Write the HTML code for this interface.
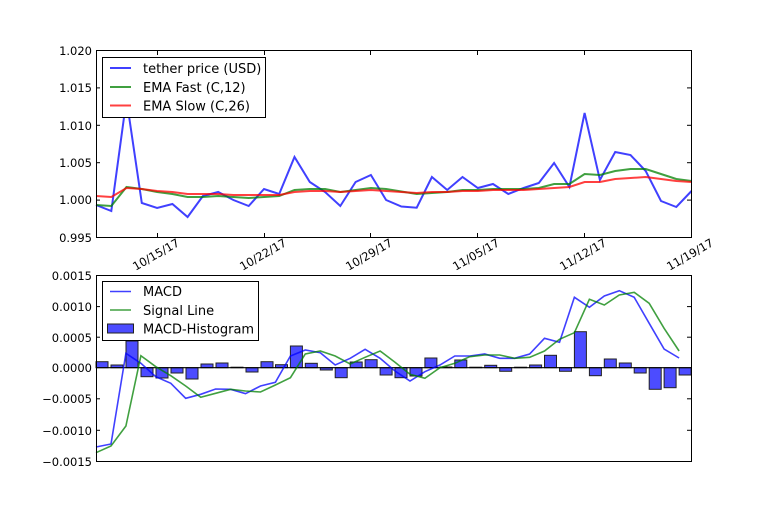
<!DOCTYPE html>
<html><head><meta charset="utf-8"><style>html,body{margin:0;padding:0;background:#fff}svg{display:block}</style></head>
<body>
<svg width="768" height="512" xmlns="http://www.w3.org/2000/svg" font-family="DejaVu Sans, Liberation Sans, sans-serif">
<rect width="768" height="512" fill="#fff"/>
<g id="top">
<polyline fill="none" stroke="#0000ff" stroke-opacity="0.75" stroke-width="2" points="96,205 111.3,211 126.5,99 141.8,203 157.1,208 172.4,204 187.6,217 202.9,196 218.2,192 233.4,200 248.7,206 264,189 279.2,194 294.5,157 309.8,182 325.1,192 340.3,206 355.6,182 370.9,175 386.1,200 401.4,206.5 416.7,207.7 431.9,177 447.2,190 462.5,177 477.8,188 493,184 508.3,194 523.6,188 538.8,183 554.1,163 569.4,187 584.6,113 599.9,180 615.2,152 630.5,155 645.7,171 661,201 676.3,207 691.5,191"/>
<polyline fill="none" stroke="#008000" stroke-opacity="0.75" stroke-width="2" points="96,205 111.3,206 126.5,187 141.8,189 157.1,192 172.4,194 187.6,197 202.9,197 218.2,196 233.4,197 248.7,198 264,197 279.2,196 294.5,190 309.8,189 325.1,189 340.3,192 355.6,190 370.9,188 386.1,189 401.4,191.5 416.7,194 431.9,193 447.2,192 462.5,190 477.8,190 493,189 508.3,189 523.6,189 538.8,188 554.1,184 569.4,184 584.6,174 599.9,175 615.2,171 630.5,169 645.7,169 661,174 676.3,179 691.5,181"/>
<polyline fill="none" stroke="#ff0000" stroke-opacity="0.75" stroke-width="2" points="96,196 111.3,197 126.5,188 141.8,189 157.1,191 172.4,192 187.6,194 202.9,194 218.2,194 233.4,195 248.7,195 264,195 279.2,195 294.5,192 309.8,191 325.1,191 340.3,192 355.6,191 370.9,190 386.1,191 401.4,192 416.7,193 431.9,192 447.2,192 462.5,191 477.8,191 493,190 508.3,190 523.6,190 538.8,189 554.1,188 569.4,187 584.6,182 599.9,182 615.2,179 630.5,178 645.7,177 661,179 676.3,181 691.5,182"/>
<rect x="96.5" y="50.5" width="595" height="187" fill="none" stroke="#000" stroke-width="1"/>
<g stroke="#000" stroke-width="1">
<line x1="96" y1="50.5" x2="100" y2="50.5"/><line x1="96" y1="87.9" x2="100" y2="87.9"/><line x1="96" y1="125.3" x2="100" y2="125.3"/><line x1="96" y1="162.7" x2="100" y2="162.7"/><line x1="96" y1="200.1" x2="100" y2="200.1"/>
<line x1="691" y1="87.9" x2="687" y2="87.9"/><line x1="691" y1="125.3" x2="687" y2="125.3"/><line x1="691" y1="162.7" x2="687" y2="162.7"/><line x1="691" y1="200.1" x2="687" y2="200.1"/>
<line x1="157.5" y1="237" x2="157.5" y2="233"/><line x1="264.5" y1="237" x2="264.5" y2="233"/><line x1="370.5" y1="237" x2="370.5" y2="233"/><line x1="477.5" y1="237" x2="477.5" y2="233"/><line x1="584.5" y1="237" x2="584.5" y2="233"/>
<line x1="157.5" y1="51" x2="157.5" y2="55"/><line x1="264.5" y1="51" x2="264.5" y2="55"/><line x1="370.5" y1="51" x2="370.5" y2="55"/><line x1="477.5" y1="51" x2="477.5" y2="55"/><line x1="584.5" y1="51" x2="584.5" y2="55"/>
</g>
<g font-size="11.5" fill="#000" text-anchor="end">
<text x="92" y="55">1.020</text><text x="92" y="92">1.015</text><text x="92" y="130">1.010</text><text x="92" y="167">1.005</text><text x="92" y="204">1.000</text><text x="92" y="242">0.995</text>
</g>
<g font-size="11.5" fill="#000" text-anchor="middle">
<text transform="translate(158,258) rotate(-30)">10/15/17</text>
<text transform="translate(265,258) rotate(-30)">10/22/17</text>
<text transform="translate(371,258) rotate(-30)">10/29/17</text>
<text transform="translate(478,258) rotate(-30)">11/05/17</text>
<text transform="translate(585,258) rotate(-30)">11/12/17</text>
<text transform="translate(692,258) rotate(-30)">11/19/17</text>
</g>
<rect x="102.5" y="57.5" width="163" height="60" fill="#fff" stroke="#000" stroke-width="1"/>
<line x1="110" y1="68" x2="131" y2="68" stroke="#0000ff" stroke-opacity="0.75" stroke-width="2"/>
<line x1="110" y1="87" x2="131" y2="87" stroke="#008000" stroke-opacity="0.75" stroke-width="2"/>
<line x1="110" y1="105.5" x2="131" y2="105.5" stroke="#ff0000" stroke-opacity="0.75" stroke-width="2"/>
<g font-size="13" fill="#000"><text x="143" y="73">tether price (USD)</text><text x="143" y="92">EMA Fast (C,12)</text><text x="143" y="110.5">EMA Slow (C,26)</text></g>
</g>
<g id="bottom">
<g fill="#0000ff" fill-opacity="0.7" stroke="#222" stroke-width="1">
<rect x="96" y="361.7" width="12" height="6"/><rect x="111" y="365" width="12" height="2.7"/><rect x="126" y="341" width="12" height="26.7"/><rect x="141" y="367.7" width="12" height="9"/><rect x="156" y="367.7" width="12" height="10.3"/><rect x="171" y="367.7" width="12" height="5.3"/><rect x="186" y="367.7" width="12" height="11.3"/><rect x="201" y="364" width="12" height="3.7"/><rect x="216" y="363" width="12" height="4.7"/><rect x="231" y="367.2" width="12" height="0.5"/><rect x="246" y="367.7" width="12" height="4.3"/><rect x="261" y="361.7" width="12" height="6"/><rect x="275.5" y="364.7" width="12" height="3"/><rect x="290.4" y="346" width="12" height="21.7"/><rect x="305.3" y="363.3" width="12" height="4.4"/><rect x="320.3" y="367.7" width="12" height="2.3"/><rect x="335.2" y="367.7" width="12" height="10"/><rect x="350.2" y="362" width="12" height="5.7"/><rect x="365.1" y="359.7" width="12" height="8"/><rect x="380.1" y="367.7" width="12" height="7.3"/><rect x="395" y="367.7" width="12" height="10"/><rect x="410" y="367.7" width="12" height="8.3"/><rect x="424.9" y="358" width="12" height="9.7"/><rect x="439.9" y="367" width="12" height="0.7"/><rect x="454.8" y="360" width="12" height="7.7"/><rect x="469.8" y="367.2" width="12" height="0.5"/><rect x="484.7" y="365.3" width="12" height="2.4"/><rect x="499.7" y="367.7" width="12" height="3.6"/><rect x="514.6" y="367.2" width="12" height="0.5"/><rect x="529.6" y="365" width="12" height="2.7"/><rect x="544.5" y="355.3" width="12" height="12.4"/><rect x="559.5" y="367.7" width="12" height="3.6"/><rect x="574.4" y="331.7" width="12" height="36"/><rect x="589.4" y="367.7" width="12" height="8"/><rect x="604.3" y="359" width="12" height="8.7"/><rect x="619.3" y="363" width="12" height="4.7"/><rect x="634.2" y="367.7" width="12" height="5.3"/><rect x="649.2" y="367.7" width="12" height="21.6"/><rect x="664.1" y="367.7" width="12" height="20"/><rect x="679.1" y="367.7" width="12" height="7.3"/>
</g>
<line x1="96" y1="367.7" x2="691" y2="367.7" stroke="#000" stroke-width="1.2"/>
<polyline fill="none" stroke="#0000ff" stroke-opacity="0.75" stroke-width="1.6" points="96,447 111,444 125.9,353.3 140.9,363.3 155.8,376.7 170.8,383.3 185.7,398.3 200.7,394.3 215.6,389 230.6,389.3 245.5,393.7 260.5,386 275.4,382.3 290.4,356 305.3,350 320.3,352.7 335.2,365 350.2,358.3 365.1,349.3 380.1,358.3 395,371 410,381 424.9,371.7 439.9,365 454.8,356 469.8,356 484.7,354 499.7,358.3 514.6,358.3 529.6,354 544.5,338.3 559.5,342.3 574.4,297.3 589.4,307.3 604.3,296 619.3,290.7 634.2,297.3 649.2,323.3 664.1,349 679.1,358"/>
<polyline fill="none" stroke="#008000" stroke-opacity="0.75" stroke-width="1.6" points="96,452.7 111,446 125.9,426 140.9,355.7 155.8,366.7 170.8,375.7 185.7,386 200.7,397.3 215.6,393.3 230.6,389.3 245.5,391 260.5,392 275.4,385 290.4,377.7 305.3,354 320.3,351 335.2,356 350.2,364 365.1,357.3 380.1,351 395,362.3 410,374.3 424.9,378.3 439.9,367.7 454.8,363.3 469.8,356.7 484.7,355 499.7,355 514.6,358.3 529.6,357.3 544.5,351 559.5,339.3 574.4,332.7 589.4,299.3 604.3,305 619.3,295 634.2,292.3 649.2,303.3 664.1,328.3 679.1,351"/>
<rect x="96.5" y="275.5" width="595" height="186" fill="none" stroke="#000" stroke-width="1"/>
<g stroke="#000" stroke-width="1">
<line x1="96" y1="306.6" x2="100" y2="306.6"/><line x1="96" y1="337.2" x2="100" y2="337.2"/><line x1="96" y1="398.8" x2="100" y2="398.8"/><line x1="96" y1="430.3" x2="100" y2="430.3"/>
<line x1="691" y1="306.6" x2="687" y2="306.6"/><line x1="691" y1="337.2" x2="687" y2="337.2"/><line x1="691" y1="398.8" x2="687" y2="398.8"/><line x1="691" y1="430.3" x2="687" y2="430.3"/>
</g>
<g font-size="11.5" fill="#000" text-anchor="end">
<text x="92" y="280">0.0015</text><text x="92" y="311">0.0010</text><text x="92" y="342">0.0005</text><text x="92" y="372">0.0000</text><text x="92" y="403">−0.0005</text><text x="92" y="435">−0.0010</text><text x="92" y="466">−0.0015</text>
</g>
<rect x="102.5" y="281.5" width="156" height="59" fill="#fff" stroke="#000" stroke-width="1"/>
<line x1="110" y1="291.5" x2="131" y2="291.5" stroke="#0000ff" stroke-opacity="0.75" stroke-width="1.6"/>
<line x1="110" y1="310" x2="131" y2="310" stroke="#008000" stroke-opacity="0.75" stroke-width="1.6"/>
<rect x="107.5" y="324" width="26" height="9" fill="#0000ff" fill-opacity="0.7" stroke="#222" stroke-width="1"/>
<g font-size="13" fill="#000"><text x="143" y="296">MACD</text><text x="143" y="315">Signal Line</text><text x="143" y="333.5">MACD-Histogram</text></g>
</g>
</svg>
</body></html>
